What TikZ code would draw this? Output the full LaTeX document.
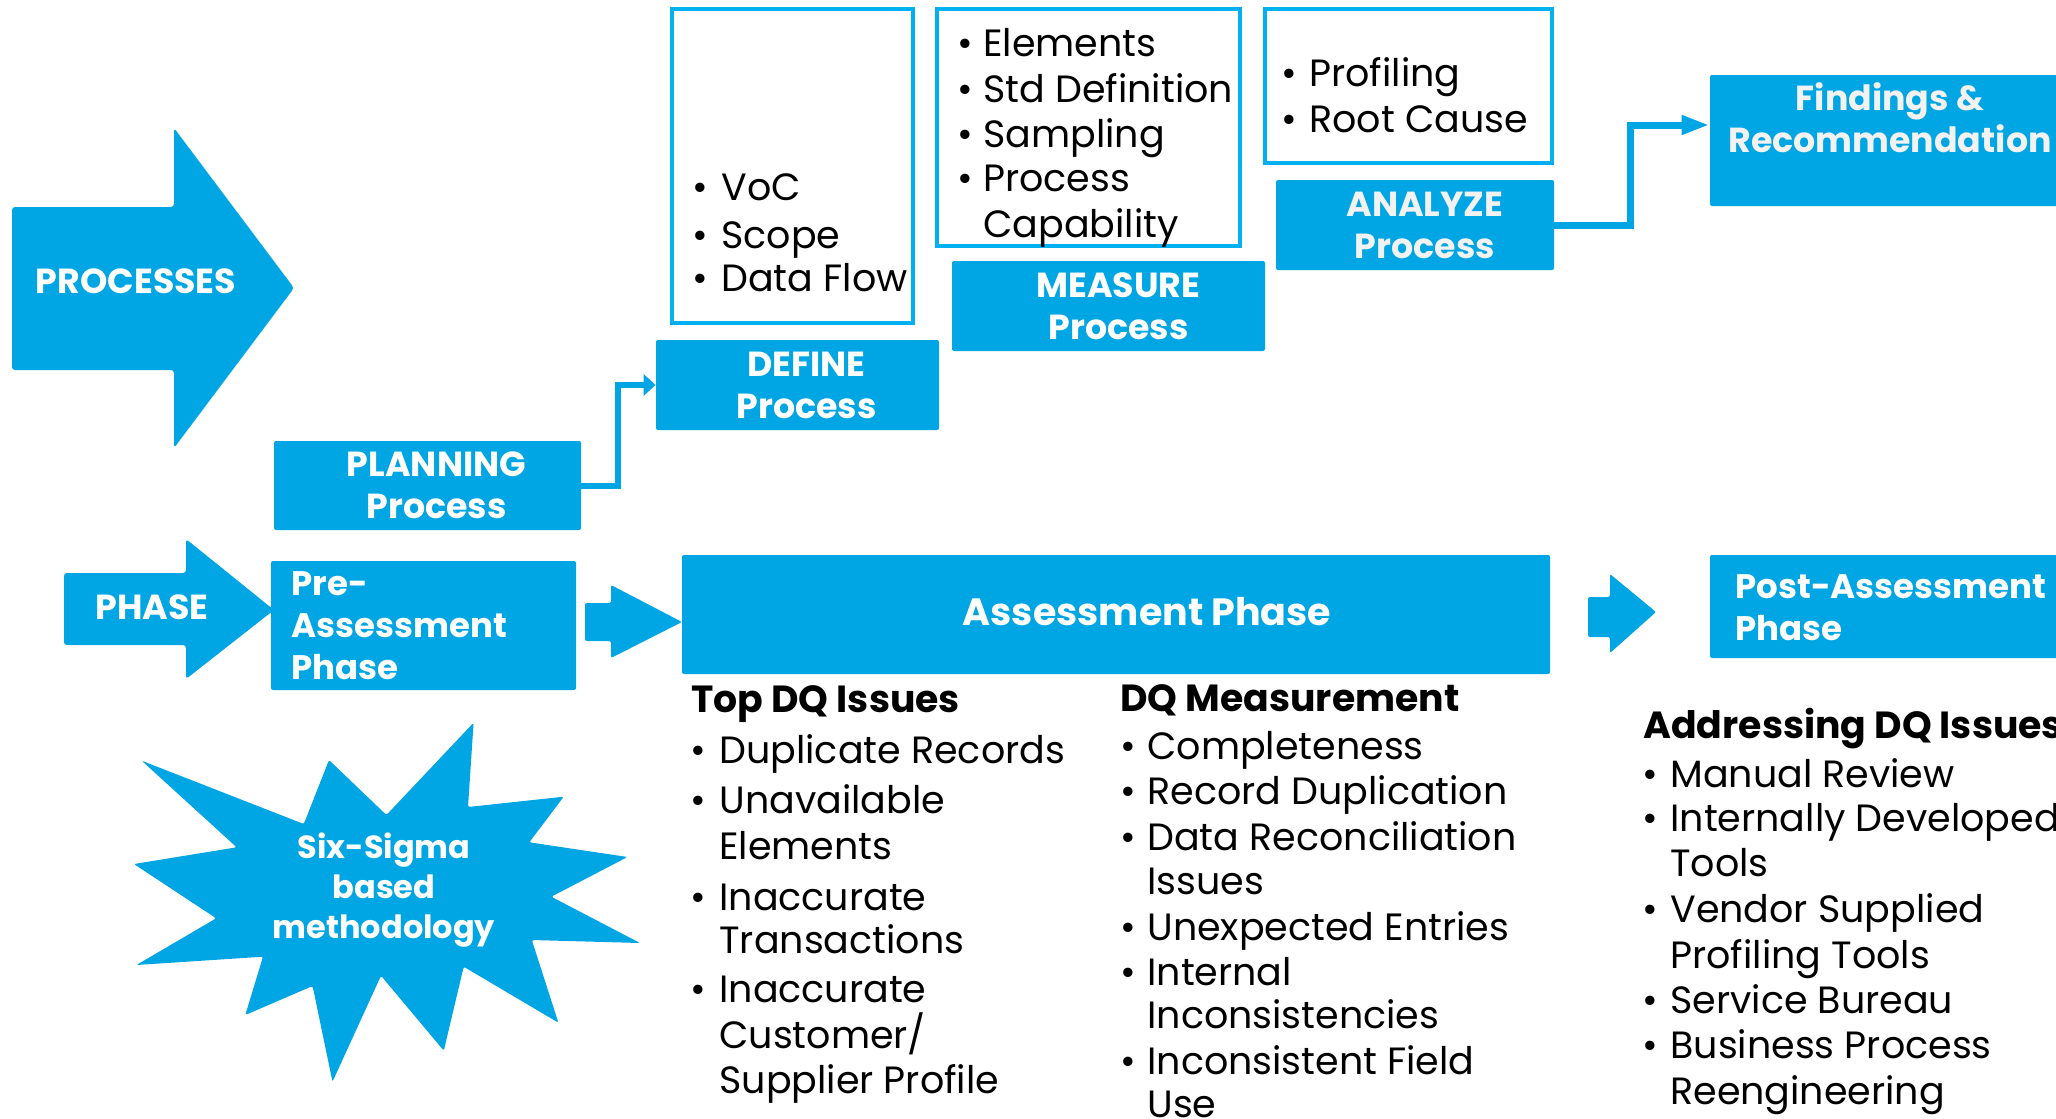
\documentclass[tikz,border=0pt]{standalone}
\usepackage{fontspec}
\setmainfont{Poppins}
\usetikzlibrary{arrows.meta}
\definecolor{dqblue}{HTML}{00A5E3}
\definecolor{dqline}{HTML}{00B0F0}
\definecolor{offwhite}{HTML}{F2F2F2}
\newcommand\dqhdrfont{\bfseries\fontsize{17.4}{21}\selectfont}
\newcommand\dqbodyfont{\fontsize{19}{22}\selectfont}
\newcommand\dqitem[5]{\node[bul] (#1b) at (#2,#4) {•};\node[body] (#1) at (#3,#4) {#5};}
\newcommand\dqcont[4]{\node[body] (#1) at (#2,#3) {#4};}
\tikzset{
  bluebox/.style={fill=dqblue, rounded corners=1pt, inner sep=0pt},
  outbox/.style={draw=dqline, line width=2pt, inner sep=0pt},
  body/.style={anchor=west, inner sep=0pt, text height=13pt, text depth=0pt, font=\dqbodyfont},
  bul/.style={body},
  listhead/.style={anchor=west, inner sep=0pt, text height=13pt, text depth=0pt, font=\bfseries\fontsize{18.9}{22}\selectfont},
  shapetext/.style={text=white, font=\dqhdrfont, align=center, inner sep=0pt},
  conn/.style={draw=dqblue, line width=3pt},
}
\begin{document}
\begin{tikzpicture}[x=0.5pt,y=-0.5pt]
\useasboundingbox (0,0) rectangle (2056,1119);
\clip (0,0) rectangle (2056,1119);

% big arrows (shapes)
\fill[dqblue, rounded corners=1.5pt] (12,207) -- (174,207) -- (174,128) -- (294,288) -- (174,448) -- (174,370) -- (12,370) -- cycle;
\node[shapetext] (proc) at (136,281) {PROCESSES};
\fill[dqblue, rounded corners=1.5pt] (64,573) -- (186,573) -- (186,539) -- (274,610) -- (186,679) -- (186,645) -- (64,645) -- cycle;
\node[shapetext] (phase) at (152,607) {PHASE};
\fill[dqblue, rounded corners=1pt] (585,603) -- (611,603) -- (611,585) -- (682,622) -- (611,658) -- (611,641) -- (585,641) -- cycle;
\fill[dqblue, rounded corners=1pt] (1588,597) -- (1610,597) -- (1610,574) -- (1656,612) -- (1610,653) -- (1610,637) -- (1588,637) -- cycle;

% starburst
\fill[dqblue, rounded corners=1pt] (141.7,760.7) -- (303.8,824) -- (329,760) -- (386.4,815) -- (473.6,722.7) -- (468,807) -- (563.7,796.7) -- (529.3,842.3) -- (627.5,857) -- (551.3,896.7) -- (640,943) -- (531.8,940) -- (558.4,1022.7) -- (463.7,966.7) -- (443.8,1050.7) -- (381,975.7) -- (332.5,1081.7) -- (312.6,986) -- (245.3,1015) -- (263,956.7) -- (136.4,965) -- (216.2,918.3) -- (133.9,864) -- (236.7,847.3) -- cycle;
\node[shapetext, font=\bfseries\fontsize{16}{20}\selectfont] (sigma) at (384,890) {Six-Sigma\\based\\methodology};

% process boxes
\node[bluebox, minimum width=153.5pt, minimum height=44.5pt] (plan) at (427.5,485.5) {};
\node[shapetext] (plant) at ([xshift=4.5pt]plan.center) {PLANNING\\Process};
\node[bluebox, minimum width=141.5pt, minimum height=45pt] (def) at (797.5,385) {};
\node[shapetext] (deft) at ([xshift=4.5pt]def.center) {DEFINE\\Process};
\node[bluebox, minimum width=156.5pt, minimum height=45pt] (meas) at (1108.5,306) {};
\node[shapetext] (meast) at ([xshift=5pt]meas.center) {MEASURE\\Process};
\node[bluebox, minimum width=139pt, minimum height=45pt] (ana) at (1415,225) {};
\node[shapetext, text=offwhite] (anat) at ([xshift=5pt]ana.center) {ANALYZE\\Process};
\node[bluebox, minimum width=180pt, minimum height=65.5pt] (find) at (1890,140.5) {};
\node[shapetext, text=offwhite] (findt) at (1890,118) {Findings \&\\Recommendation};

% phase boxes
\node[bluebox, minimum width=152.5pt, minimum height=64.5pt] (pre) at (423.5,625.5) {};
\node[shapetext, anchor=west, align=left, font=\bfseries\fontsize{17}{21}\selectfont] (pret) at (291,626) {Pre-\\Assessment\\Phase};
\node[bluebox, minimum width=434pt, minimum height=59.5pt] (assess) at (1116,614.5) {};
\node[shapetext, font=\bfseries\fontsize{19}{22}\selectfont] (assesst) at (1147,612) {Assessment Phase};
\node[bluebox, minimum width=180pt, minimum height=51.5pt] (post) at (1890,606.5) {};
\node[shapetext, anchor=west, align=left, font=\bfseries\fontsize{17}{21}\selectfont] (postt) at (1735,608) {Post-Assessment\\Phase};

% outline boxes
\node[outbox, minimum width=120.5pt, minimum height=157pt] (defbox) at (792.5,166) {};
\node[outbox, minimum width=151.5pt, minimum height=118.5pt] (measbox) at (1088.5,127.5) {};
\node[outbox, minimum width=143.5pt, minimum height=77pt] (anabox) at (1408.5,86) {};

% connectors
\draw[conn, -{Triangle[length=6pt,width=10.5pt]}] (plan.east) -- ++(37,0) |- (def.west);
\draw[conn, line width=3.5pt, -{Triangle[length=14pt,width=9pt]}] (ana.east) -- ++(76,0) |- ([yshift=7.75pt]find.west);

% bullet texts in outline boxes
\dqitem{d1}{692}{721}{187}{VoC}
\dqitem{d2}{692}{721}{235}{Scope}
\dqitem{d3}{692}{721}{278}{Data Flow}
\dqitem{m1}{957}{983}{43}{Elements}
\dqitem{m2}{957}{983}{89}{Std Definition}
\dqitem{m3}{957}{983}{134}{Sampling}
\dqitem{m4}{957}{983}{178}{Process}
\dqcont{m5}{983}{224}{Capability}
\dqitem{a1}{1281}{1309}{73}{Profiling}
\dqitem{a2}{1281}{1309}{119}{Root Cause}

% Top DQ issues
\node[listhead] (tdq) at (691,699) {Top DQ Issues};
\dqitem{t1}{690}{719}{750}{Duplicate Records}
\dqitem{t2}{690}{719}{800}{Unavailable}
\dqcont{t3}{719}{846}{Elements}
\dqitem{t4}{690}{719}{897}{Inaccurate}
\dqcont{t5}{719}{940}{Transactions}
\dqitem{t6}{690}{719}{989}{Inaccurate}
\dqcont{t7}{719}{1035}{Customer/}
\dqcont{t8}{719}{1080}{Supplier Profile}

% DQ Measurement
\node[listhead] (dqm) at (1120,698) {DQ Measurement};
\dqitem{q1}{1120}{1147}{746}{Completeness}
\dqitem{q2}{1120}{1147}{791}{Record Duplication}
\dqitem{q3}{1120}{1147}{837}{Data Reconciliation}
\dqcont{q4}{1147}{881}{Issues}
\dqitem{q5}{1120}{1147}{927}{Unexpected Entries}
\dqitem{q6}{1120}{1147}{972}{Internal}
\dqcont{q7}{1147}{1015}{Inconsistencies}
\dqitem{q8}{1120}{1147}{1061}{Inconsistent Field}
\dqcont{q9}{1147}{1104}{Use}

% Addressing DQ Issues
\node[listhead] (adq) at (1643,725) {Addressing DQ Issues};
\dqitem{r1}{1642}{1670}{774}{Manual Review}
\dqitem{r2}{1642}{1670}{818}{Internally Developed}
\dqcont{r3}{1670}{863}{Tools}
\dqitem{r4}{1642}{1670}{909}{Vendor Supplied}
\dqcont{r5}{1670}{955}{Profiling Tools}
\dqitem{r6}{1642}{1670}{1000}{Service Bureau}
\dqitem{r7}{1642}{1670}{1045}{Business Process}
\dqcont{r8}{1670}{1091}{Reengineering}
\end{tikzpicture}
\end{document}
